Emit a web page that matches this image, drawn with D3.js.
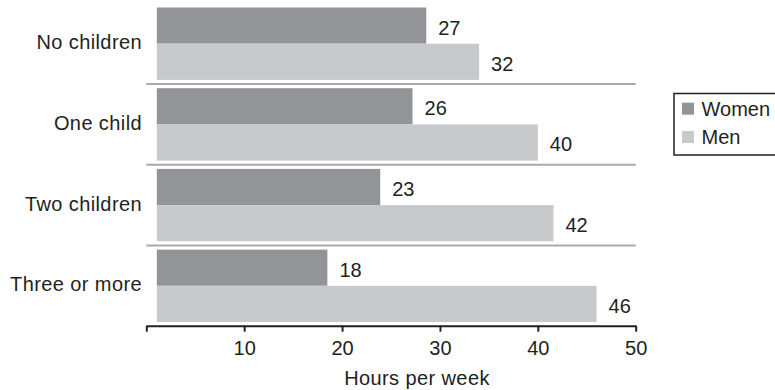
<!DOCTYPE html>
<html>
<head>
<meta charset="utf-8">
<script src="https://cdn.jsdelivr.net/npm/d3@7/dist/d3.min.js"></script>
<style>
  html, body { margin: 0; padding: 0; background: #fff; }
  svg { display: block; }
  text { font-family: "Liberation Sans", Arial, sans-serif; fill: #231f20; }
</style>
</head>
<body>
<svg id="chart" width="775" height="390"></svg>
<script>
// ---- Data ----
const categories = ["No children", "One child", "Two children", "Three or more"];
const series = ["Women", "Men"];
const womenValues = [28.6, 27.2, 23.9, 18.5];   // bar lengths as drawn
const menValues   = [34.0, 40.0, 41.6, 46.0];
const womenLabels = ["27", "26", "23", "18"];   // printed value labels
const menLabels   = ["32", "40", "42", "46"];
const tickValues  = [0, 10, 20, 30, 40, 50];
const tickLabels  = ["", "10", "20", "30", "40", "50"];
const axisTitle   = "Hours per week";

// ---- Styles ----
const colors = { Women: "#939498", Men: "#c8c9cb" };
const ink = "#231f20";
const fontSize = 20;

const svg = d3.select("#chart");

const x = d3.scaleLinear().domain([0, 50]).range([146.3, 635.7]);
const y = d3.scaleBand().domain(categories).range([7.5, 322]).paddingInner(0.103).paddingOuter(0);
const sub = d3.scaleBand().domain(series).range([0, y.bandwidth()]);

const barInset = 10.5; // bars begin slightly right of the axis origin

const rows = categories.map((c, i) => ({
  cat: c,
  bars: [
    { s: "Women", v: womenValues[i], label: womenLabels[i] },
    { s: "Men", v: menValues[i], label: menLabels[i] }
  ]
}));

// separators between groups
const sepYs = categories.slice(1).map((c, i) => {
  const prevEnd = y(categories[i]) + y.bandwidth();
  return (prevEnd + y(c)) / 2;
});
svg.append("g").selectAll("line").data(sepYs).join("line")
  .attr("x1", x(0)).attr("x2", x(50))
  .attr("y1", d => d).attr("y2", d => d)
  .attr("stroke", "#a9a9ab").attr("stroke-width", 2);

const g = svg.append("g").selectAll("g").data(rows).join("g")
  .attr("transform", d => `translate(0,${y(d.cat)})`);

g.selectAll("rect").data(d => d.bars).join("rect")
  .attr("x", x(0) + barInset)
  .attr("y", d => sub(d.s))
  .attr("width", d => x(d.v) - x(0) - barInset)
  .attr("height", sub.bandwidth())
  .attr("fill", d => colors[d.s]);

g.selectAll("text.val").data(d => d.bars).join("text")
  .attr("class", "val")
  .attr("x", d => x(d.v) + 12)
  .attr("y", d => sub(d.s) + sub.bandwidth() / 2 + 2)
  .attr("dominant-baseline", "central")
  .style("font-size", fontSize + "px")
  .text(d => d.label);

// category labels
svg.append("g").selectAll("text").data(categories).join("text")
  .attr("x", 142)
  .attr("y", d => y(d) + y.bandwidth() / 2 + 5.5)
  .attr("text-anchor", "end")
  .style("font-size", fontSize + "px")
  .style("letter-spacing", "0.4px")
  .text(d => d);

// x axis
const axisY = 325.7;
const axis = d3.axisBottom(x).tickValues(tickValues)
  .tickFormat((d, i) => tickLabels[i]).tickSize(6).tickSizeOuter(0);
const ax = svg.append("g").attr("transform", `translate(0,${axisY})`).call(axis);
ax.select(".domain").attr("stroke", ink).attr("stroke-width", 2);
ax.selectAll(".tick line").attr("stroke", ink).attr("stroke-width", 2);
ax.selectAll(".tick text")
  .attr("y", 29).attr("dy", 0)
  .style("font-size", fontSize + "px")
  .style("font-family", "'Liberation Sans', Arial, sans-serif")
  .attr("fill", ink);

svg.append("text")
  .attr("x", 417).attr("y", 385)
  .attr("text-anchor", "middle")
  .style("font-size", fontSize + "px")
  .style("letter-spacing", "0.4px")
  .text(axisTitle);

// legend
const lg = svg.append("g");
lg.append("rect").attr("x", 674).attr("y", 93.5).attr("width", 140).attr("height", 61.5)
  .attr("fill", "none").attr("stroke", ink).attr("stroke-width", 1.5);
series.forEach((s, i) => {
  lg.append("rect").attr("x", 682).attr("y", 102.7 + i * 28.3).attr("width", 12).attr("height", 12)
    .attr("fill", colors[s]);
  lg.append("text").attr("x", 701.5).attr("y", 116 + i * 28.3)
    .style("font-size", fontSize + "px")
    .text(s);
});
</script>
</body>
</html>
